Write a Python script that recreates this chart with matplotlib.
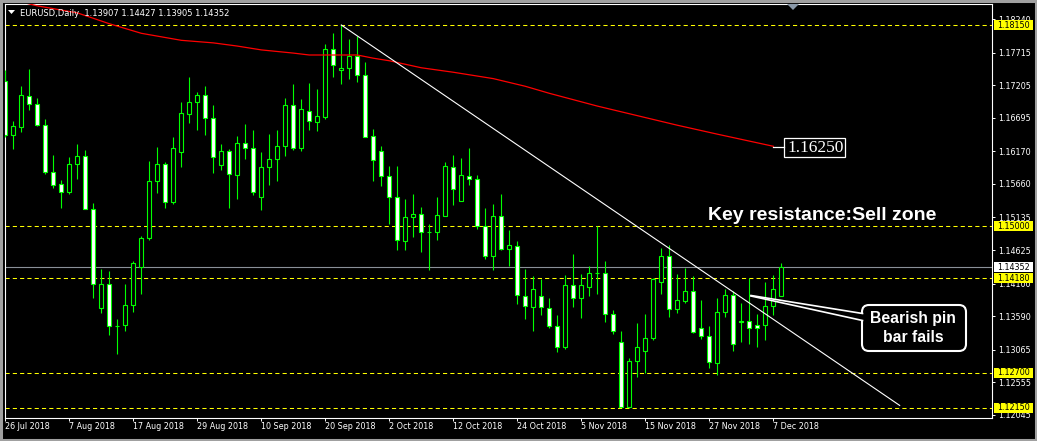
import numpy as np
import matplotlib
matplotlib.use("Agg")
from matplotlib import pyplot as plt
from matplotlib.patches import Rectangle, FancyBboxPatch, Polygon
from matplotlib.transforms import Affine2D, blended_transform_factory

# EURUSD daily candles, 26 Jul 2018 -> 10 Dec 2018
opens = [1.1728, 1.1642, 1.1655, 1.1703, 1.1691, 1.1659, 1.1584, 1.1566, 1.1553, 1.1598,
         1.1609, 1.1526, 1.1371, 1.1410, 1.1344, 1.1345, 1.1376, 1.1436, 1.1481, 1.1570,
         1.1597, 1.1537, 1.1616, 1.1676, 1.1694, 1.1706, 1.1670, 1.1595, 1.1617, 1.1580,
         1.1630, 1.1622, 1.1546, 1.1592, 1.1605, 1.1625, 1.1689, 1.1623, 1.1681, 1.1663,
         1.1671, 1.1777, 1.1744, 1.1747, 1.1766, 1.1736, 1.1641, 1.1617, 1.1578, 1.1546,
         1.1476, 1.1514, 1.1519, 1.1490, 1.1490, 1.1516, 1.1592, 1.1540, 1.1578, 1.1573,
         1.1500, 1.1453, 1.1515, 1.1464, 1.1469, 1.1391, 1.1373, 1.1391, 1.1371, 1.1343,
         1.1311, 1.1407, 1.1387, 1.1405, 1.1426, 1.1426, 1.1363, 1.1319, 1.1217, 1.1288,
         1.1305, 1.1324, 1.1412, 1.1453, 1.1370, 1.1383, 1.1399, 1.1340, 1.1327, 1.1285,
         1.1365, 1.1392, 1.1352, 1.1352, 1.1345, 1.1345, 1.1375, 1.13907]
highs = [1.1745, 1.1665, 1.1719, 1.1746, 1.1700, 1.1667, 1.1611, 1.1572, 1.1608, 1.1628,
         1.1619, 1.1536, 1.1432, 1.1430, 1.1354, 1.1409, 1.1445, 1.1485, 1.1602, 1.1624,
         1.1601, 1.1640, 1.1694, 1.1734, 1.1710, 1.1719, 1.1690, 1.1629, 1.1620, 1.1641,
         1.1660, 1.1651, 1.1616, 1.1644, 1.1651, 1.1700, 1.1723, 1.1699, 1.1724, 1.1715,
         1.1785, 1.1802, 1.1815, 1.1793, 1.1797, 1.1757, 1.1652, 1.1625, 1.1594, 1.1594,
         1.1543, 1.1550, 1.1530, 1.1503, 1.1546, 1.1600, 1.1611, 1.1607, 1.1622, 1.1580,
         1.1529, 1.1534, 1.1550, 1.1494, 1.1477, 1.1433, 1.1422, 1.1417, 1.1388, 1.1361,
         1.1424, 1.1456, 1.1425, 1.1437, 1.1500, 1.1446, 1.1369, 1.1335, 1.1294, 1.1348,
         1.1362, 1.1419, 1.1465, 1.1471, 1.1425, 1.1434, 1.1421, 1.1384, 1.1343, 1.1387,
         1.1401, 1.1399, 1.1380, 1.1418, 1.1362, 1.1413, 1.1423, 1.14427]
lows = [1.1640, 1.1620, 1.1648, 1.1682, 1.1657, 1.1582, 1.1560, 1.1529, 1.1550, 1.1573,
        1.1526, 1.1388, 1.1364, 1.1329, 1.1300, 1.1335, 1.1366, 1.1394, 1.1478, 1.1552,
        1.1529, 1.1534, 1.1593, 1.1662, 1.1651, 1.1642, 1.1583, 1.1588, 1.1529, 1.1543,
        1.1605, 1.1549, 1.1525, 1.1564, 1.1570, 1.1609, 1.1619, 1.1618, 1.1651, 1.1649,
        1.1668, 1.1733, 1.1723, 1.1731, 1.1725, 1.1639, 1.1570, 1.1563, 1.1503, 1.1463,
        1.1463, 1.1483, 1.1460, 1.1431, 1.1478, 1.1515, 1.1533, 1.1539, 1.1565, 1.1496,
        1.1449, 1.1431, 1.1463, 1.1438, 1.1378, 1.1354, 1.1335, 1.1360, 1.1340, 1.1302,
        1.1307, 1.1373, 1.1356, 1.1391, 1.1394, 1.1350, 1.1331, 1.1216, 1.1216, 1.1263,
        1.1270, 1.1321, 1.1393, 1.1358, 1.1364, 1.1379, 1.1332, 1.1323, 1.1277, 1.1266,
        1.1358, 1.1305, 1.1319, 1.1316, 1.1310, 1.1321, 1.1361, 1.13905]
closes = [1.1643, 1.1656, 1.1705, 1.1691, 1.1659, 1.1584, 1.1565, 1.1553, 1.1598, 1.1609,
          1.1527, 1.1409, 1.1409, 1.1343, 1.1344, 1.1376, 1.1442, 1.1481, 1.1570, 1.1597,
          1.1537, 1.1622, 1.1677, 1.1694, 1.1706, 1.1670, 1.1608, 1.1617, 1.1581, 1.1630,
          1.1623, 1.1553, 1.1592, 1.1605, 1.1625, 1.1689, 1.1622, 1.1683, 1.1664, 1.1672,
          1.1777, 1.1752, 1.1748, 1.1766, 1.1736, 1.1640, 1.1603, 1.1578, 1.1546, 1.1478,
          1.1514, 1.1519, 1.1490, 1.1490, 1.1517, 1.1594, 1.1558, 1.1580, 1.1573, 1.1500,
          1.1453, 1.1515, 1.1464, 1.1470, 1.1392, 1.1375, 1.1401, 1.1373, 1.1343, 1.1311,
          1.1407, 1.1388, 1.1407, 1.1426, 1.1426, 1.1363, 1.1335, 1.1217, 1.1288, 1.1310,
          1.1324, 1.1417, 1.1453, 1.1370, 1.1384, 1.1399, 1.1334, 1.1327, 1.1287, 1.1365,
          1.1392, 1.1315, 1.1350, 1.1341, 1.1341, 1.1375, 1.1401, 1.14352]

# red moving average (bar index, value)
ma_idx = [2, 4, 9, 13, 17, 22, 26, 29, 32, 36, 38, 44, 46, 48, 52, 56, 61, 65, 68, 74, 80, 84, 89, 96]
ma_val = [1.1851, 1.1845, 1.1834, 1.1817, 1.1802, 1.1791, 1.1787, 1.1782, 1.1776, 1.1771, 1.1768,
          1.1768, 1.1763, 1.1759, 1.1748, 1.1741, 1.1731, 1.1719, 1.1708, 1.1688, 1.1670, 1.1658,
          1.1644, 1.1625]

# descending trendline from the 24 Sep high
trend_x = [42, 111.8]
trend_y = [1.1815, 1.1219]

levels = [1.1815, 1.1500, 1.1418, 1.1270, 1.1215]
last_price = 1.14352
price_ticks = [1.18240, 1.17715, 1.17205, 1.16695, 1.16170, 1.15660, 1.15135,
               1.14625, 1.14100, 1.13590, 1.13065, 1.12555, 1.12045]
date_labels = ["26 Jul 2018", "7 Aug 2018", "17 Aug 2018", "29 Aug 2018", "10 Sep 2018",
               "20 Sep 2018", "2 Oct 2018", "12 Oct 2018", "24 Oct 2018", "5 Nov 2018",
               "15 Nov 2018", "27 Nov 2018", "7 Dec 2018"]

W, H, DPI = 1037, 441, 100
fig = plt.figure(figsize=(W / DPI, H / DPI), dpi=DPI, facecolor='black')
ax = fig.add_axes([4.5 / W, 23 / H, 987.5 / W, 414 / H], facecolor='black')
# helper: image pixel coords (origin top-left) for the decorations
pix = Affine2D().scale(1 / W, -1 / H).translate(0, 1) + fig.transFigure

o, h, l, c = map(np.array, (opens, highs, lows, closes))
idx = np.arange(len(c))

# levels under the candles
for lv in levels:
    ax.axhline(lv, color='#ffff00', lw=0.75, ls=(0, (4, 3)), zorder=1)
ax.axhline(last_price, color='#8a9098', lw=0.8, zorder=1)

ax.vlines(idx, l, h, color='#00ff00', lw=0.8, zorder=3)
fill = np.where(c > o, 'black', 'white')
ax.bar(idx, c - o, bottom=o, width=0.55, color=fill, edgecolor='#00ff00',
       linewidth=0.8, zorder=4)

ax.plot(ma_idx, ma_val, color='#ff0000', lw=0.9, zorder=5)
ax.plot(trend_x, trend_y, color='white', lw=0.8, zorder=5)

ax.set_xlim(-0.1, 123.34)
ax.set_ylim(1.11993, 1.18479)

ax.yaxis.tick_right()
ax.set_yticks(price_ticks)
ax.set_yticklabels([f"{v:.5f}" for v in price_ticks])
ax.set_xticks(np.arange(len(date_labels)) * 8)
ax.set_xticklabels(date_labels, ha='left')
ax.tick_params(axis='y', colors='white', length=2.5, width=0.7, pad=1.8, labelsize=5.8)
ax.tick_params(axis='x', colors='white', length=2.5, width=0.7, pad=0.6, labelsize=5.8)
for s in ax.spines.values():
    s.set_color('white')
    s.set_linewidth(0.8)

# price labels on the right scale
ypx = (1.18479 - 1.11993) / 414
tr = blended_transform_factory(ax.transAxes, ax.transData)
for lv, bg in [(v, 'yellow') for v in levels] + [(last_price, 'white')]:
    ax.add_patch(Rectangle((1 + 2 / 987.5, lv - 5 * ypx), 39 / 987.5, 10 * ypx, transform=tr,
                           facecolor=bg, edgecolor='none', clip_on=False, zorder=6))
    ax.text(1 + 5.5 / 987.5, lv, f"{lv:.5f}", transform=tr, color='black', fontsize=5.8,
            va='center', ha='left', clip_on=False, zorder=7)

# header
fig.patches.append(Polygon([(8, 10), (15, 10), (11.5, 14)], closed=True, transform=pix,
                           facecolor='white', edgecolor='none'))
fig.text(20, 15.7, "EURUSD,Daily  1.13907 1.14427 1.13905 1.14352", transform=pix,
         color='white', fontsize=6, va='baseline', ha='left')
fig.patches.append(Polygon([(787, 4), (799, 4), (793, 10)], closed=True, transform=pix,
                           facecolor='#8a98a8', edgecolor='none'))

# MA value label
fig.lines.append(plt.Line2D([773, 784], [147, 147], transform=pix, color='white', lw=0.9))
fig.patches.append(Rectangle((784, 137.5), 61, 19, transform=pix, facecolor='black',
                             edgecolor='white', lw=0.9))
fig.text(787, 147.5, "1.16250", transform=pix, color='white', fontsize=12.5,
         family='Liberation Serif', va='center', ha='left')

fig.text(708, 219.5, "Key resistance:Sell zone", transform=pix, color='white',
         fontsize=14, fontweight='bold', family='Liberation Sans', va='baseline', ha='left')

# callout
fig.patches.append(FancyBboxPatch((862, 305), 104, 46, boxstyle='round,pad=0,rounding_size=7',
                                  transform=pix, facecolor='black', edgecolor='white', lw=1.5))
fig.patches.append(Polygon([(751, 295.5), (864, 313.5), (864, 320.5)], closed=True,
                           transform=pix, facecolor='black', edgecolor='none'))
fig.lines.append(plt.Line2D([751, 862.5], [295.5, 313.5], transform=pix, color='white', lw=1.2))
fig.lines.append(plt.Line2D([751, 862.5], [296, 320.5], transform=pix, color='white', lw=1.2))
fig.text(913, 323.3, "Bearish pin", transform=pix, color='white', fontsize=11.3,
         fontweight='bold', family='Liberation Sans', va='baseline', ha='center')
fig.text(913, 342.3, "bar fails", transform=pix, color='white', fontsize=11.3,
         fontweight='bold', family='Liberation Sans', va='baseline', ha='center')

# outer grey frame
fig.patches.append(Rectangle((1.2, 1.2), W - 2.4, H - 2.4, transform=pix, fill=False,
                             edgecolor='#a0a0a0', lw=2.2))

fig.savefig("out.png", dpi=DPI, facecolor='black')
